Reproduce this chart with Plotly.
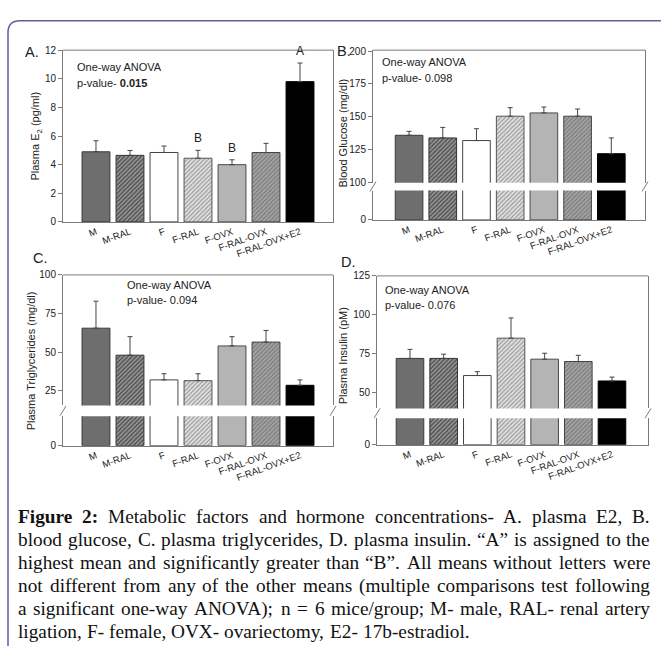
import plotly.graph_objects as go

W, H = 661, 646


def px(x):
    return x / W


def py(y):
    return 1 - y / H


# ---------------- data ----------------
groups = ["M", "M-RAL", "F", "F-RAL", "F-OVX", "F-RAL-OVX", "F-RAL-OVX+E2"]

e2_mean = [4.9, 4.65, 4.85, 4.45, 4.0, 4.85, 9.8]
e2_err = [0.77, 0.34, 0.45, 0.55, 0.34, 0.64, 1.3]
e2_letters = ["", "", "", "B", "B", "", "A"]

glu_mean = [136, 134, 132, 150.5, 153, 150.5, 122]
glu_err = [3, 8, 9, 6.5, 4.5, 5.5, 12]

tg_mean = [65.5, 48, 32, 31.5, 54, 56.5, 28.5]
tg_err = [17.5, 12, 4, 4.5, 6, 7.5, 3.5]

ins_mean = [72, 72, 61, 85, 71.5, 70, 57.5]
ins_err = [5.8, 2.7, 2.5, 13, 3.8, 4, 2.5]

e2_ticks = [0, 2, 4, 6, 8, 10, 12]
glu_ticks = [100, 125, 150, 175, 200]
tg_ticks = [25, 50, 75, 100]
ins_ticks = [50, 75, 100, 125]

anova_p = ["<b>0.015</b>", "0.098", "0.094", "0.076"]
ytitles = ["Plasma E<sub>2</sub> (pg/ml)", "Blood Glucose (mg/dl)",
           "Plasma Triglycerides (mg/dl)", "Plasma Insulin (pM)"]

caption_lines = [
    "Figure 2: Metabolic factors and hormone concentrations- A. plasma E2, B.",
    "blood glucose, C. plasma triglycerides, D. plasma insulin. \u201cA\u201d is assigned to the",
    "highest mean and significantly greater than \u201cB\u201d.  All means without letters were",
    "not different from any of the other means (multiple comparisons test following",
    "a significant one-way ANOVA); n = 6 mice/group; M- male, RAL- renal artery",
    "ligation, F- female, OVX- ovariectomy, E2- 17b-estradiol.",
]

# ---------------- styles ----------------
bar_bg = ["#6e6e6e", "#595959", "#ffffff", "#e0e0e0", "#b4b4b4", "#a4a4a4", "#000000"]
bar_fg = ["#6e6e6e", "#2c2c2c", "#ffffff", "#a0a0a0", "#b4b4b4", "#5a5a5a", "#000000"]
bar_shape = ["", "/", "", "/", "", "/", ""]
bar_line = ["#3a3a3a", "#333333", "#444444", "#555555", "#4a4a4a", "#444444", "#000000"]

SANS = "Liberation Sans, Arial, sans-serif"
SERIF = "Liberation Serif, Times New Roman, serif"
AX = "#7a7a7a"
TXT = "#222222"


def marker():
    return dict(color=bar_bg, line=dict(color=bar_line, width=1),
                pattern=dict(shape=bar_shape, fgcolor=bar_fg, bgcolor=bar_bg,
                             size=3, solidity=0.35))


fig = go.Figure()


def add_bars(xa, ya, mean, err, with_err):
    kw = {}
    if with_err:
        kw["error_y"] = dict(type="data", array=err, arrayminus=[0] * len(err),
                             symmetric=False, color="#444444", thickness=1, width=2.5)
    fig.add_trace(go.Bar(x=groups, y=mean, xaxis=xa, yaxis=ya, width=0.82,
                         marker=marker(), showlegend=False, hoverinfo="skip", **kw))


def yax(dom, rng, ticks, anchor):
    return dict(domain=[py(dom[1]), py(dom[0])], range=rng, tickvals=ticks,
                ticktext=[str(t) for t in ticks],
                ticks="outside", ticklen=4, tickcolor=AX, showline=True, linecolor=AX,
                linewidth=1, mirror=True, showgrid=False, zeroline=False, anchor=anchor,
                tickfont=dict(family=SANS, size=10, color=TXT))


def xax(dom, rng, anchor):
    return dict(domain=[px(dom[0]), px(dom[1])], range=rng, type="category",
                showline=True, linecolor=AX, linewidth=1, ticks="", showgrid=False,
                zeroline=False, anchor=anchor, tickangle=-20,
                tickfont=dict(family=SANS, size=9.5, color=TXT))


layout = dict(width=W, height=H, margin=dict(l=0, r=0, t=0, b=0),
              paper_bgcolor="white", plot_bgcolor="white", showlegend=False)

# Panel A
add_bars("x", "y", e2_mean, e2_err, True)
layout["xaxis"] = xax((63, 333), [-0.97, 6.97], "y")
layout["yaxis"] = yax((45, 220), [0, 12], e2_ticks, "x")

# Panel B
add_bars("x2", "y2", glu_mean, glu_err, True)
add_bars("x2", "y3", glu_mean, glu_err, False)
layout["xaxis2"] = xax((373, 645), [-1.07, 7.0], "y3")
layout["yaxis2"] = yax((45, 180), [100, 200.7], glu_ticks, "x2")
layout["yaxis3"] = yax((188, 218), [0, 60], [0], "x2")

# Panel C
add_bars("x3", "y4", tg_mean, tg_err, True)
add_bars("x3", "y5", tg_mean, tg_err, False)
layout["xaxis3"] = xax((63, 333), [-0.97, 6.97], "y5")
layout["yaxis4"] = yax((274, 407), [15.46, 100], tg_ticks, "x3")
layout["yaxis5"] = yax((418, 448), [0, 10], [0], "x3")

# Panel D
add_bars("x4", "y6", ins_mean, ins_err, True)
add_bars("x4", "y7", ins_mean, ins_err, False)
layout["xaxis4"] = xax((377, 648), [-0.98, 7.07], "y7")
layout["yaxis6"] = yax((275, 410), [39.9, 125], ins_ticks, "x4")
layout["yaxis7"] = yax((420, 447), [0, 20], [0], "x4")

fig.update_layout(**layout)

shapes = []
annotations = []

# outer rounded border (page frame)
shapes.append(dict(type="path", xref="paper", yref="paper",
                   path=f"M {px(8)},{py(660)} L {px(8)},{py(27)} Q {px(8)},{py(15)} {px(20)},{py(15)} L {px(675)},{py(15)}",
                   line=dict(color="#5f5e9c", width=1.5)))

# panel top lines
for (x0, x1, yt) in [(63, 333, 45), (373, 645, 45), (63, 333, 274), (377, 648, 275)]:
    shapes.append(dict(type="line", xref="paper", yref="paper", x0=px(x0), x1=px(x1),
                       y0=py(yt), y1=py(yt), line=dict(color=AX, width=1)))

# axis break marks
for (x0, x1, yc) in [(373, 645, 184), (63, 333, 412.5), (377, 648, 415)]:
    for xb in (x0, x1):
        shapes.append(dict(type="line", xref="paper", yref="paper",
                           x0=px(xb - 3), x1=px(xb + 3), y0=py(yc + 5), y1=py(yc - 5),
                           line=dict(color=AX, width=1)))


def ann(x, y, text, size, family=SANS, **kw):
    d = dict(x=px(x), y=py(y), xref="paper", yref="paper", text=text, showarrow=False,
             font=dict(family=family, size=size, color=kw.pop("color", TXT)),
             borderpad=0, borderwidth=0)
    d.update(kw)
    annotations.append(d)


# panel letters
for (x, y, t) in [(25, 47, "A."), (337, 46, "B."), (33, 257, "C."), (341, 261, "D.")]:
    ann(x, y, t, 14.5, xanchor="left", yanchor="middle")

# ANOVA text
for (x, y, p) in zip([77, 382, 127, 385], [62, 57, 284, 289], anova_p):
    ann(x, y, "One-way ANOVA", 11, xanchor="left", yanchor="middle")
    ann(x, y + 16, "p-value- " + p, 11, xanchor="left", yanchor="middle")

# y-axis titles
for (x, y, t) in zip([36, 343, 31, 343], [133, 130, 362, 357], ytitles):
    ann(x, y, t, 11, textangle=-90, xanchor="center", yanchor="middle")

# significance letters
for g, m, e, l in zip(groups, e2_mean, e2_err, e2_letters):
    if l:
        annotations.append(dict(x=g, y=m + e, xref="x", yref="y", text=l, showarrow=False,
                                yanchor="bottom", yshift=3,
                                font=dict(family=SANS, size=12, color=TXT)))

# caption (justified, using Times metrics)
TW = {' ': 250, 'a': 444, 'b': 500, 'c': 444, 'd': 500, 'e': 444, 'f': 333, 'g': 500, 'h': 500,
      'i': 278, 'j': 278, 'k': 500, 'l': 278, 'm': 778, 'n': 500, 'o': 500, 'p': 500, 'q': 500,
      'r': 333, 's': 389, 't': 278, 'u': 500, 'v': 500, 'w': 722, 'x': 500, 'y': 500, 'z': 444,
      'A': 722, 'B': 667, 'C': 667, 'D': 722, 'E': 611, 'F': 556, 'G': 722, 'H': 722, 'I': 333,
      'J': 389, 'K': 722, 'L': 611, 'M': 889, 'N': 722, 'O': 722, 'P': 556, 'Q': 722, 'R': 667,
      'S': 556, 'T': 611, 'U': 722, 'V': 722, 'W': 944, 'X': 722, 'Y': 722, 'Z': 611,
      ',': 250, '.': 250, ':': 278, ';': 278, '-': 333, '(': 333, ')': 333, '\u201c': 444,
      '\u201d': 444, '=': 564, '/': 278}
TWB = {'F': 611, 'i': 278, 'g': 500, 'u': 556, 'r': 444, 'e': 444, '2': 500, ':': 333}
for d in "0123456789":
    TW[d] = 500

CAP_SIZE = 19.3
CAP_L, CAP_R = 18, 650
cap_y = [520, 543.5, 567, 590.5, 614, 637.5]


def wwidth(w, bold):
    tab = TWB if bold else TW
    return sum(tab.get(c, TW.get(c, 500)) for c in w) * CAP_SIZE / 1000.0


for li, (line, yc) in enumerate(zip(caption_lines, cap_y)):
    words = line.split()
    bold = [li == 0 and wi < 2 for wi in range(len(words))]
    widths = [wwidth(w, b) for w, b in zip(words, bold)]
    if li < len(caption_lines) - 1:
        gap = (CAP_R - CAP_L - sum(widths)) / (len(words) - 1)
    else:
        gap = TW[' '] * CAP_SIZE / 1000.0
    x = CAP_L
    for w, b, wd in zip(words, bold, widths):
        ann(x, yc, f"<b>{w}</b>" if b else w, CAP_SIZE, family=SERIF,
            xanchor="left", yanchor="middle", color="#111111")
        x += wd + gap

fig.update_layout(shapes=shapes, annotations=annotations, bargap=0.18)
fig.write_html("out.html")
